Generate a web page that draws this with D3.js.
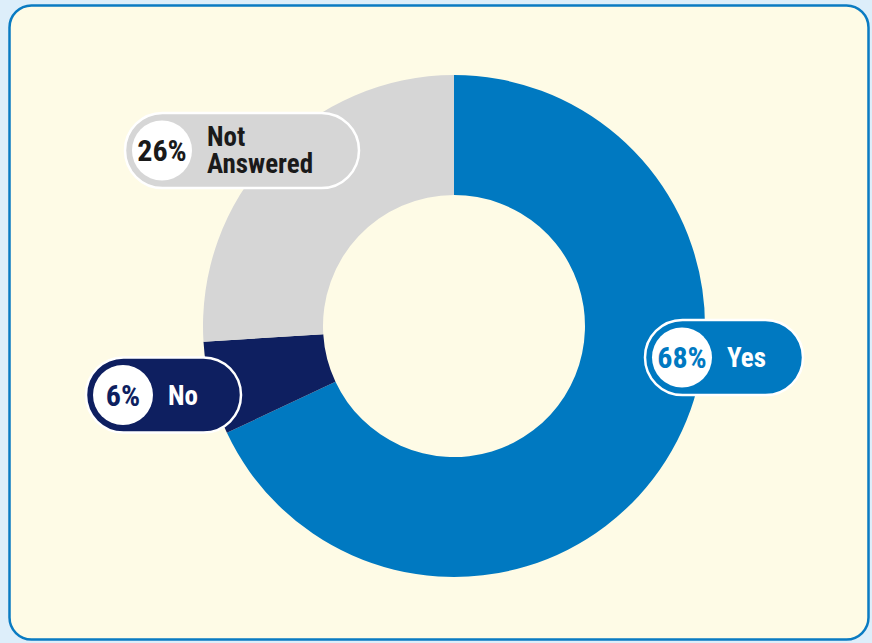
<!DOCTYPE html>
<html>
<head>
<meta charset="utf-8">
<script src="https://cdn.jsdelivr.net/npm/d3@7"></script>
<style>
  body { margin: 0; background: #ddeefa; overflow: hidden; }
  text { font-family: "Roboto Condensed", "Liberation Sans", sans-serif; font-weight: bold; }
</style>
</head>
<body>
<div id="chart"></div>
<script>
// survey answers
const categories = ['Yes', 'No', 'Not Answered'];
const values = [68, 6, 26];
const colors = ['#0079c1', '#0e1f60', '#d6d6d6'];
const textColors = ['#0079c1', '#0e1f60', '#1a1a1a'];
const nameColors = ['#ffffff', '#ffffff', '#1a1a1a'];
const nameLines = [['Yes'], ['No'], ['Not', 'Answered']];

const width = 872;
const height = 643;
const cx = 454, cy = 326;
const outerR = 251, innerR = 131;

// pill placement (left edge, vertical centre, width)
const pills = [
  { x: 645, y: 357.5, w: 158 },
  { x: 86, y: 395, w: 155 },
  { x: 125, y: 150.5, w: 234 }
];

const data = categories.map((c, i) => ({ name: c, value: values[i], i: i }));

const svg = d3.select('#chart')
  .append('svg')
  .attr('width', width)
  .attr('height', height);

// card
svg.append('rect')
  .attr('x', 9.5)
  .attr('y', 5.5)
  .attr('width', 859)
  .attr('height', 634)
  .attr('rx', 22)
  .attr('fill', '#fefbe6')
  .attr('stroke', '#0a7bc2')
  .attr('stroke-width', 2.5);

const pie = d3.pie().sort(null).value(d => d.value);
const arc = d3.arc().innerRadius(innerR).outerRadius(outerR);

const g = svg.append('g').attr('transform', `translate(${cx},${cy})`);

g.selectAll('path')
  .data(pie(data))
  .enter()
  .append('path')
  .attr('d', arc)
  .attr('fill', d => colors[d.data.i]);

// labels
const pillH = 75;
const lab = svg.selectAll('.pill')
  .data(data)
  .enter()
  .append('g')
  .attr('class', 'pill')
  .attr('transform', d => `translate(${pills[d.i].x},${pills[d.i].y})`);

lab.append('rect')
  .attr('x', 0)
  .attr('y', -pillH / 2)
  .attr('width', d => pills[d.i].w)
  .attr('height', pillH)
  .attr('rx', pillH / 2)
  .attr('fill', d => colors[d.i])
  .attr('stroke', '#ffffff')
  .attr('stroke-width', 2.5);

lab.append('circle')
  .attr('cx', 37)
  .attr('cy', 0)
  .attr('r', 30)
  .attr('fill', '#ffffff');

lab.append('text')
  .attr('x', 37)
  .attr('y', 10.5)
  .attr('text-anchor', 'middle')
  .style('font-size', '30px')
  .attr('fill', d => textColors[d.i])
  .text(d => d.value + '%');

lab.each(function(d) {
  const lines = nameLines[d.i];
  const t = d3.select(this).append('text')
    .attr('x', 82)
    .style('font-size', '27px')
    .attr('fill', nameColors[d.i]);
  const y0 = lines.length > 1 ? -4.5 : 9.5;
  lines.forEach((l, k) => {
    t.append('tspan').attr('x', 82).attr('y', y0 + k * 27).text(l);
  });
});
</script>
</body>
</html>
